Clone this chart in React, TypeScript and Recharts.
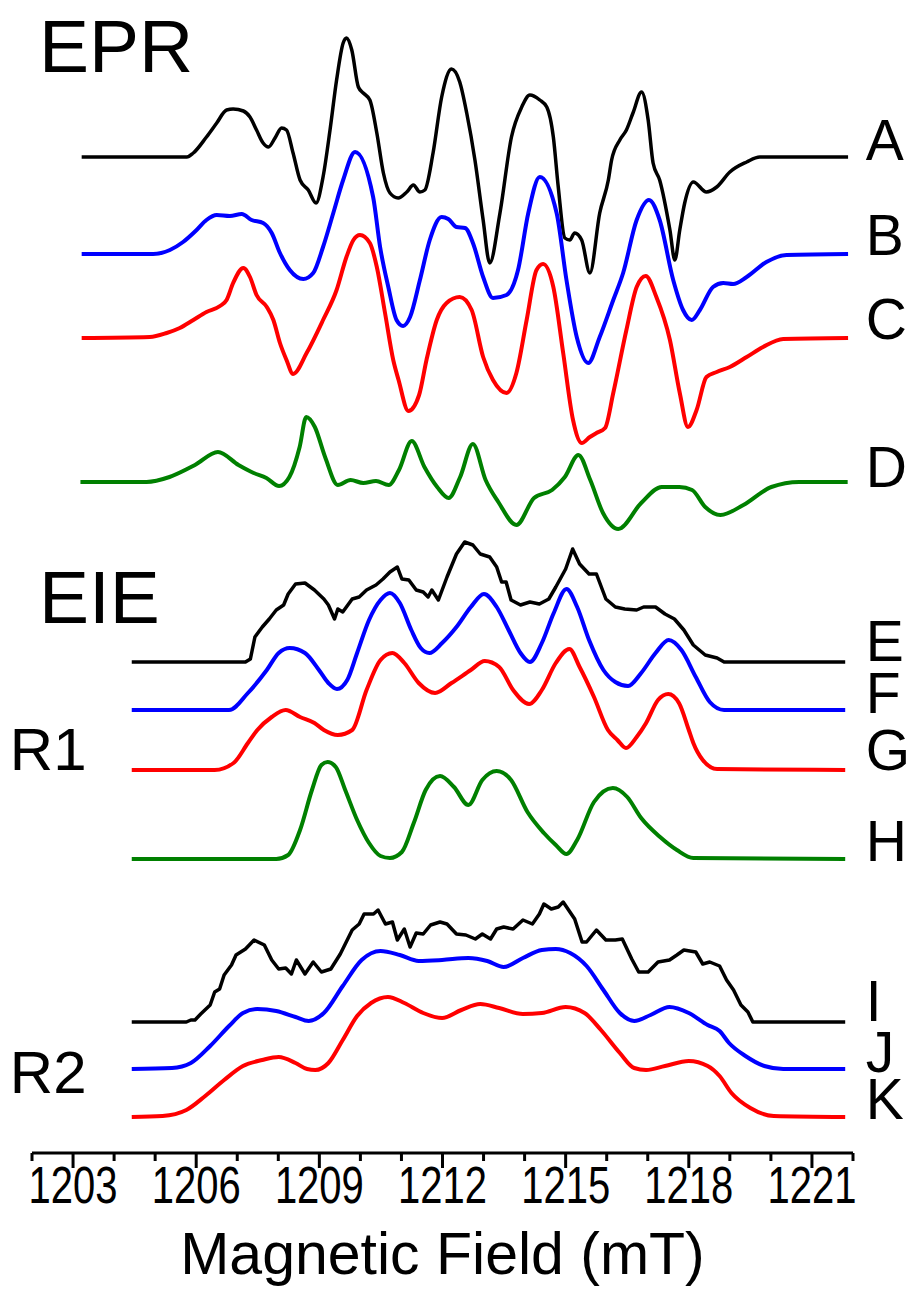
import React from 'react'
import { LineChart, Line, XAxis, YAxis, ReferenceDot } from 'recharts'

const FONT = '"Liberation Sans", Arial, Helvetica, sans-serif'

// field (mT) vs. signal, each trace relative to its own baseline
const traceA = [
  [1203.21, 0], [1205.77, 0], [1205.93, 4], [1206.25, 20], [1206.5, 34], [1206.74, 47], [1206.9, 48],
  [1207.15, 46], [1207.31, 40], [1207.47, 27], [1207.63, 14], [1207.76, 10], [1207.92, 19], [1208.08, 29],
  [1208.2, 27], [1208.36, 4], [1208.53, -23], [1208.73, -33], [1208.92, -46], [1209.09, -20], [1209.26, 27],
  [1209.42, 77], [1209.58, 114], [1209.66, 119], [1209.79, 107], [1209.95, 70], [1210.07, 64], [1210.23, 57],
  [1210.4, 24], [1210.56, -16], [1210.72, -36], [1210.92, -41], [1211.13, -35], [1211.29, -28], [1211.45, -35],
  [1211.57, -33], [1211.77, 4], [1211.98, 60], [1212.22, 88], [1212.42, 75], [1212.59, 44], [1212.79, -3],
  [1212.99, -63], [1213.15, -106], [1213.4, -56], [1213.68, 20], [1213.93, 50], [1214.13, 62], [1214.37, 57],
  [1214.54, 50], [1214.7, 20], [1214.82, -30], [1214.98, -81], [1215.1, -83], [1215.22, -76], [1215.39, -83],
  [1215.59, -116], [1215.83, -56], [1216.04, -23], [1216.12, -3], [1216.32, 17], [1216.48, 27], [1216.64, 44],
  [1216.85, 65], [1217.01, 37], [1217.13, -6], [1217.29, -23], [1217.54, -73], [1217.66, -103], [1217.78, -73],
  [1217.9, -46], [1218.11, -25], [1218.43, -35], [1218.68, -30], [1219.0, -15], [1219.41, -5], [1219.73, 0],
  [1221.88, 0],
]

const traceB = [
  [1203.21, 0], [1204.95, 0], [1205.36, 4], [1205.68, 12], [1206.01, 24], [1206.25, 34], [1206.5, 39],
  [1206.82, 38], [1207.11, 40], [1207.35, 34], [1207.63, 31], [1207.84, 21], [1208.04, 1], [1208.28, -16],
  [1208.61, -25], [1208.85, -19], [1209.09, 7], [1209.34, 41], [1209.58, 74], [1209.87, 102], [1210.31, 57],
  [1210.48, 7], [1210.68, -33], [1210.88, -66], [1211.04, -72], [1211.21, -63], [1211.45, -26], [1211.69, 14],
  [1211.98, 37], [1212.14, 35], [1212.34, 27], [1212.55, 26], [1212.75, 10], [1212.99, -23], [1213.23, -44],
  [1213.56, -41], [1213.84, -16], [1214.09, 41], [1214.37, 77], [1214.78, 41], [1215.02, -26], [1215.27, -83],
  [1215.55, -109], [1215.83, -83], [1216.16, -46], [1216.4, -19], [1216.73, 34], [1217.03, 54], [1217.29, 34],
  [1217.62, -26], [1217.86, -56], [1218.07, -66], [1218.27, -56], [1218.59, -33], [1218.84, -29], [1219.08, -30],
  [1219.41, -23], [1219.89, -8], [1220.38, -1], [1221.88, 0],
]

const traceC = [
  [1203.21, 0], [1204.87, 1], [1205.28, 5], [1205.6, 10], [1205.93, 18], [1206.25, 26], [1206.58, 32],
  [1206.74, 38], [1206.9, 55], [1207.15, 70], [1207.31, 61], [1207.47, 43], [1207.72, 31], [1207.88, 18],
  [1208.04, -5], [1208.2, -22], [1208.36, -36], [1208.69, -15], [1209.09, 18], [1209.42, 48], [1209.66, 81],
  [1209.83, 98], [1209.99, 103], [1210.23, 95], [1210.4, 71], [1210.6, 25], [1210.8, -22], [1210.93, -42],
  [1211.17, -73], [1211.43, -57], [1211.61, -22], [1211.86, 18], [1212.1, 35], [1212.42, 41], [1212.71, 28],
  [1212.99, -19], [1213.23, -42], [1213.56, -55], [1213.8, -35], [1214.05, 18], [1214.29, 68], [1214.45, 74],
  [1214.7, 51], [1214.94, -15], [1215.18, -82], [1215.39, -105], [1215.59, -99], [1215.75, -95], [1215.96, -90],
  [1216.16, -55], [1216.48, 8], [1216.73, 51], [1216.95, 62], [1217.21, 41], [1217.54, -2], [1217.78, -55],
  [1217.98, -89], [1218.19, -72], [1218.43, -39], [1218.68, -34], [1219.0, -29], [1219.41, -19], [1219.81, -9],
  [1220.3, -1], [1221.88, 0],
]

const traceD = [
  [1203.18, 0], [1204.79, 0], [1205.35, 5], [1205.97, 17], [1206.53, 30], [1207.03, 17], [1207.4, 9],
  [1207.71, 4], [1208.02, -4], [1208.27, 5], [1208.52, 35], [1208.68, 65], [1208.89, 55], [1209.14, 25],
  [1209.45, -3], [1209.76, 2], [1210.07, -1], [1210.38, 1], [1210.69, -3], [1210.94, 12], [1211.25, 41],
  [1211.56, 15], [1211.87, -5], [1212.15, -16], [1212.43, 5], [1212.74, 38], [1213.05, 2], [1213.36, -20],
  [1213.8, -43], [1214.23, -16], [1214.67, -8], [1214.98, 5], [1215.31, 27], [1215.6, 2], [1215.91, -31],
  [1216.28, -47], [1216.84, -21], [1217.34, -5], [1217.77, -5], [1218.08, -8], [1218.4, -25], [1218.77, -33],
  [1219.33, -23], [1220.01, -5], [1220.69, 0], [1221.87, 0],
]

const traceE = [
  [1204.43, 0], [1207.2, 0], [1207.32, 3], [1207.43, 25], [1207.61, 35], [1207.78, 43], [1207.95, 52],
  [1208.13, 57], [1208.24, 68], [1208.42, 78], [1208.65, 79], [1208.88, 72], [1209.11, 63], [1209.22, 57],
  [1209.37, 43], [1209.45, 53], [1209.57, 50], [1209.8, 63], [1209.97, 65], [1210.15, 72], [1210.38, 77],
  [1210.55, 83], [1210.72, 90], [1210.9, 95], [1211.01, 83], [1211.18, 82], [1211.36, 72], [1211.53, 70],
  [1211.65, 65], [1211.74, 72], [1211.9, 62], [1212.11, 85], [1212.34, 108], [1212.54, 120], [1212.74, 117],
  [1212.92, 108], [1213.15, 105], [1213.32, 95], [1213.44, 80], [1213.55, 80], [1213.67, 62], [1213.9, 57],
  [1214.13, 60], [1214.36, 58], [1214.59, 63], [1214.76, 75], [1215.0, 93], [1215.17, 113], [1215.34, 98],
  [1215.57, 88], [1215.75, 88], [1215.98, 63], [1216.21, 55], [1216.44, 53], [1216.73, 52], [1216.9, 55],
  [1217.19, 55], [1217.42, 48], [1217.65, 43], [1217.88, 32], [1218.11, 17], [1218.4, 7], [1218.69, 4],
  [1218.86, 0], [1221.81, 0],
]

const traceF = [
  [1204.43, 0], [1206.8, 0], [1207.26, 17], [1207.72, 40], [1208.01, 57], [1208.28, 62], [1208.65, 57],
  [1208.99, 40], [1209.22, 27], [1209.43, 21], [1209.68, 30], [1209.92, 57], [1210.21, 90], [1210.49, 110],
  [1210.72, 117], [1210.96, 107], [1211.24, 80], [1211.47, 62], [1211.68, 57], [1211.99, 67], [1212.34, 83],
  [1212.69, 103], [1213.01, 116], [1213.32, 103], [1213.61, 80], [1213.9, 57], [1214.13, 48], [1214.42, 67],
  [1214.71, 97], [1215.02, 121], [1215.28, 103], [1215.57, 70], [1215.92, 40], [1216.21, 28], [1216.52, 24],
  [1216.84, 37], [1217.19, 57], [1217.51, 70], [1217.82, 60], [1218.17, 33], [1218.51, 8], [1218.86, 0],
  [1221.81, 0],
]

const traceG = [
  [1204.43, 0], [1206.45, 0], [1206.91, 7], [1207.26, 27], [1207.49, 40], [1207.84, 53], [1208.18, 60],
  [1208.53, 53], [1208.88, 47], [1209.11, 40], [1209.45, 35], [1209.8, 40], [1210.15, 80], [1210.49, 110],
  [1210.78, 117], [1211.07, 107], [1211.42, 87], [1211.82, 77], [1212.22, 87], [1212.69, 100], [1213.03, 109],
  [1213.38, 103], [1213.72, 80], [1214.11, 66], [1214.42, 80], [1214.76, 107], [1215.09, 121], [1215.34, 103],
  [1215.69, 73], [1216.03, 40], [1216.26, 30], [1216.47, 22], [1216.73, 33], [1216.96, 47], [1217.25, 70],
  [1217.5, 76], [1217.76, 67], [1218.0, 40], [1218.11, 27], [1218.34, 10], [1218.69, 1], [1221.81, 0],
]

const traceH = [
  [1204.43, 0], [1207.95, 0], [1208.24, 4], [1208.53, 29], [1208.82, 69], [1209.05, 94], [1209.2, 97],
  [1209.4, 92], [1209.63, 69], [1209.92, 39], [1210.21, 16], [1210.49, 3], [1210.72, 1], [1211.01, 7],
  [1211.3, 36], [1211.59, 69], [1211.94, 83], [1212.28, 72], [1212.63, 54], [1212.97, 79], [1213.32, 88],
  [1213.67, 79], [1214.07, 47], [1214.47, 26], [1214.76, 14], [1215.02, 5], [1215.28, 19], [1215.69, 57],
  [1216.15, 71], [1216.5, 62], [1216.84, 41], [1217.3, 22], [1217.71, 9], [1218.11, 1], [1221.81, 0],
]

const traceI = [
  [1204.43, 0], [1205.76, 0], [1205.87, 2], [1205.97, 2], [1206.11, 8], [1206.34, 17], [1206.45, 30],
  [1206.57, 33], [1206.68, 47], [1206.86, 57], [1206.97, 67], [1207.2, 73], [1207.41, 82], [1207.66, 77],
  [1207.84, 62], [1208.01, 53], [1208.18, 54], [1208.32, 48], [1208.44, 62], [1208.65, 48], [1208.85, 60],
  [1209.05, 50], [1209.28, 53], [1209.51, 68], [1209.8, 92], [1209.97, 98], [1210.09, 108], [1210.32, 108],
  [1210.43, 112], [1210.61, 98], [1210.78, 100], [1210.9, 82], [1211.07, 93], [1211.21, 75], [1211.36, 89],
  [1211.53, 88], [1211.71, 97], [1211.94, 100], [1212.11, 98], [1212.34, 88], [1212.57, 87], [1212.8, 83],
  [1212.97, 88], [1213.17, 83], [1213.32, 93], [1213.49, 95], [1213.72, 93], [1213.96, 102], [1214.19, 98],
  [1214.36, 108], [1214.47, 118], [1214.65, 113], [1214.82, 115], [1214.94, 120], [1215.22, 103], [1215.4, 80],
  [1215.51, 80], [1215.75, 92], [1215.98, 82], [1216.21, 82], [1216.38, 83], [1216.61, 63], [1216.78, 50],
  [1217.01, 50], [1217.25, 60], [1217.53, 62], [1217.71, 67], [1217.88, 72], [1218.17, 70], [1218.34, 58],
  [1218.51, 60], [1218.75, 56], [1218.92, 42], [1219.09, 32], [1219.27, 17], [1219.44, 10], [1219.56, 0],
  [1221.81, 0],
]

const traceJ = [
  [1204.43, 0], [1205.41, 1], [1205.87, 6], [1206.34, 23], [1206.8, 43], [1207.14, 56], [1207.49, 60],
  [1207.95, 58], [1208.42, 52], [1208.74, 48], [1209.11, 56], [1209.57, 83], [1210.03, 109], [1210.49, 118],
  [1210.96, 114], [1211.42, 108], [1211.99, 109], [1212.63, 111], [1213.09, 108], [1213.49, 102], [1213.96, 111],
  [1214.42, 119], [1214.76, 120], [1215.11, 116], [1215.51, 103], [1215.92, 79], [1216.32, 56], [1216.67, 48],
  [1217.07, 54], [1217.53, 62], [1218.0, 56], [1218.46, 44], [1218.75, 38], [1218.98, 26], [1219.38, 13],
  [1219.84, 3], [1220.3, 0], [1221.81, 0],
]

const traceK = [
  [1204.43, 0], [1205.18, 1], [1205.76, 7], [1206.22, 21], [1206.68, 37], [1207.14, 51], [1207.61, 57],
  [1208.01, 60], [1208.42, 54], [1208.7, 48], [1208.9, 47], [1209.22, 54], [1209.57, 77], [1209.92, 101],
  [1210.26, 114], [1210.67, 120], [1211.07, 114], [1211.53, 104], [1211.99, 99], [1212.46, 107], [1212.92, 113],
  [1213.38, 109], [1213.96, 103], [1214.42, 104], [1215.0, 110], [1215.46, 104], [1215.86, 87], [1216.32, 64],
  [1216.67, 49], [1216.96, 47], [1217.42, 51], [1218.0, 56], [1218.46, 51], [1218.75, 41], [1219.04, 24],
  [1219.5, 9], [1220.07, 1], [1221.81, 0],
]

// vertical stacking offset of every trace
const offsets = { A: 996, B: 899, C: 815, D: 671, E: 491, F: 443, G: 383, H: 294, I: 131, J: 84, K: 36 }

const fieldTicks = [
  1202, 1203, 1204, 1205, 1206, 1207, 1208, 1209, 1210, 1211, 1212,
  1213, 1214, 1215, 1216, 1217, 1218, 1219, 1220, 1221, 1222,
]
const majorTicks = [1203, 1206, 1209, 1212, 1215, 1218, 1221]

const series = [
  { key: 'A', points: traceA, color: '#000000', width: 3.5, curve: 'monotone' },
  { key: 'B', points: traceB, color: '#0000ff', width: 4, curve: 'monotone' },
  { key: 'C', points: traceC, color: '#ff0000', width: 4, curve: 'monotone' },
  { key: 'D', points: traceD, color: '#008000', width: 4, curve: 'monotone' },
  { key: 'E', points: traceE, color: '#000000', width: 3.5, curve: 'linear' },
  { key: 'F', points: traceF, color: '#0000ff', width: 4, curve: 'monotone' },
  { key: 'G', points: traceG, color: '#ff0000', width: 4, curve: 'monotone' },
  { key: 'H', points: traceH, color: '#008000', width: 4, curve: 'monotone' },
  { key: 'I', points: traceI, color: '#000000', width: 3.5, curve: 'linear' },
  { key: 'J', points: traceJ, color: '#0000ff', width: 4, curve: 'monotone' },
  { key: 'K', points: traceK, color: '#ff0000', width: 4, curve: 'monotone' },
] as const

// text annotations: x in mT, y in stacked units (text baseline)
const tags = [
  { text: 'EPR', x: 1202.17, y: 1081, size: 75 },
  { text: 'EIE', x: 1202.17, y: 530, size: 75 },
  { text: 'R1', x: 1201.46, y: 383, size: 60 },
  { text: 'R2', x: 1201.46, y: 60, size: 60 },
  { text: 'A', x: 1222.31, y: 993, size: 57 },
  { text: 'B', x: 1222.31, y: 898, size: 57 },
  { text: 'C', x: 1222.31, y: 814, size: 57 },
  { text: 'D', x: 1222.31, y: 666, size: 57 },
  { text: 'E', x: 1222.31, y: 492, size: 57 },
  { text: 'F', x: 1222.31, y: 440, size: 57 },
  { text: 'G', x: 1222.31, y: 383, size: 57 },
  { text: 'H', x: 1222.31, y: 292, size: 57 },
  { text: 'I', x: 1222.31, y: 132, size: 57 },
  { text: 'J', x: 1222.31, y: 81, size: 57 },
  { text: 'K', x: 1222.31, y: 34, size: 57 },
]

function FieldTick({ x, y, payload }: any) {
  const major = majorTicks.includes(payload.value)
  return (
    <g>
      <line x1={x} x2={x} y1={y} y2={y + (major ? 15 : 8)} stroke="#000" strokeWidth={3} />
      {major && (
        <text
          transform={`translate(${x},${y + 50}) scale(1,1.3)`}
          textAnchor="middle"
          fontSize={40}
          fontFamily={FONT}
          fill="#000"
        >
          {payload.value}
        </text>
      )}
    </g>
  )
}

export default function App() {
  return (
    <div style={{ position: 'absolute', left: 0, top: 0, background: '#fff' }}>
      <LineChart width={909} height={1310} margin={{ top: 0, right: 56, bottom: 0, left: 32 }}>
        <XAxis
          type="number"
          dataKey="x"
          domain={[1202, 1222]}
          ticks={fieldTicks}
          interval={0}
          height={157}
          tickSize={0}
          tickMargin={0}
          tickLine={false}
          axisLine={{ stroke: '#000', strokeWidth: 3 }}
          tick={<FieldTick />}
          label={{
            value: 'Magnetic Field (mT)',
            position: 'insideBottom',
            offset: 36,
            fontSize: 59,
            fill: '#000',
            fontFamily: FONT,
          }}
        />
        <YAxis type="number" domain={[0, 1153]} hide width={0} />
        {series.map(s => (
          <Line
            key={s.key}
            data={s.points.map(([x, v]) => ({ x, y: offsets[s.key] + v }))}
            dataKey="y"
            type={s.curve}
            stroke={s.color}
            strokeWidth={s.width}
            strokeLinejoin="round"
            dot={false}
            activeDot={false}
            isAnimationActive={false}
          />
        ))}
        {tags.map(t => (
          <ReferenceDot
            key={t.text}
            x={t.x}
            y={t.y}
            r={1}
            ifOverflow="visible"
            shape={(p: any) => (
              <text x={p.cx} y={p.cy} fontSize={t.size} fontFamily={FONT} fill="#000">
                {t.text}
              </text>
            )}
          />
        ))}
      </LineChart>
    </div>
  )
}
